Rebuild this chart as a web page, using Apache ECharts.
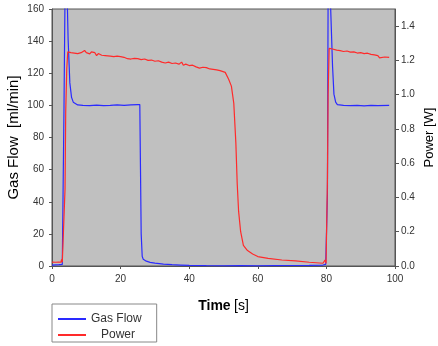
<!DOCTYPE html>
<html>
<head>
<meta charset="utf-8">
<script src="https://cdn.jsdelivr.net/npm/echarts@6/dist/echarts.min.js"></script>
<style>
html,body{margin:0;padding:0;background:#fff;}
#chart{width:438px;height:346px;}
</style>
</head>
<body>
<div id="chart"></div>
<script>
// x ticks (Time [s])
var xTicks = [0, 20, 40, 60, 80, 100];
// Gas Flow [ml/min]: [time s, flow]
var gasFlow = [
  [0,0.5],[1,0.7],[2,0.8],[3,1],[3.4,1.2],[3.5,99],[3.8,170],[4.4,170],[4.7,141],[5.0,125],[5.2,114],
  [5.7,105],[6.2,102],[6.6,101.2],[7.5,100.3],[9,100],[11,99.8],[13,100.2],[15,99.8],[17,100],
  [19,100.3],[21,100],[23,100.3],[25,100.5],[25.6,100.5],[25.8,60],[26.0,20],[26.3,6],[26.6,4.2],
  [27.5,3],[28.6,2.3],[30,1.8],[32.5,1.2],[35,0.8],[37.5,0.6],[40,0.4],[45,0.2],[50,0.1],[55,0.2],
  [60,0.1],[65,0.2],[70,0.3],[75,0.4],[79,0.6],[79.8,1],[80.1,1.5],[80.3,45],[80.5,170],[81.1,170],
  [81.4,150],[81.8,124],[82.2,107],[82.7,102],[83.2,100.5],[85,100],[87,99.8],[89,100],[91,99.7],
  [93,100],[95,99.8],[98.3,100]
];
// Power [W]: [time s, power]
var power = [
  [0,0.023],[1,0.022],[2,0.023],[2.6,0.022],[2.8,0.038],[3.0,0.022],[3.4,0.02],[3.6,0.02],[3.8,0.45],
  [4.0,0.9],[4.3,1.15],[4.6,1.25],[5,1.252],[5.5,1.245],[6,1.25],[6.5,1.243],[7,1.248],[7.5,1.24],
  [8,1.25],[8.5,1.245],[9,1.243],[9.5,1.258],[10,1.245],[10.5,1.25],[11,1.238],[11.5,1.25],[12,1.24],
  [12.5,1.245],[13,1.228],[13.5,1.24],[14,1.235],[14.5,1.23],[15,1.24],[15.5,1.228],[16,1.23],
  [17,1.225],[17.5,1.232],[18,1.222],[19,1.225],[19.5,1.215],[20,1.222],[20.5,1.212],[21,1.218],
  [22,1.21],[22.5,1.215],[23,1.208],[24,1.212],[25,1.21],[25.5,1.215],[26,1.205],[27,1.208],
  [28,1.2],[29,1.202],[30,1.195],[31,1.198],[32,1.19],[33,1.185],[34,1.19],[35,1.182],[36,1.185],
  [37,1.178],[37.8,1.19],[38.3,1.172],[39,1.178],[40,1.17],[41,1.172],[42,1.162],[42.5,1.17],
  [43,1.155],[43.5,1.165],[44,1.16],[45,1.158],[46,1.15],[47,1.148],[48,1.145],[49,1.14],
  [50.5,1.13],[51.5,1.09],[52.3,1.05],[53,0.95],[53.6,0.72],[54,0.48],[54.4,0.32],[55,0.2],
  [55.8,0.12],[57,0.09],[58.5,0.07],[60,0.055],[63,0.045],[67,0.035],[71,0.03],[75,0.022],
  [79,0.016],[79.6,0.035],[79.9,0.015],[80.3,0.5],[80.5,1.0],[80.8,1.27],[81.5,1.268],[82,1.265],
  [83,1.26],[84,1.257],[85,1.252],[86,1.255],[87,1.248],[88,1.25],[89,1.243],[90,1.245],[91,1.24],
  [92,1.242],[93,1.235],[94,1.232],[95,1.228],[95.5,1.215],[96,1.225],[97,1.22],[98.3,1.218]
];

var chart = echarts.init(document.getElementById('chart'), null, {renderer: 'canvas'});
var labelFont = {fontFamily: 'Liberation Sans, Arial, sans-serif', fontSize: 10, color: '#333'};
chart.setOption({
  animation: false,
  backgroundColor: '#ffffff',
  grid: {left: 52, right: 43, top: 9, bottom: 80, containLabel: false, outerBoundsMode: 'none',
    show: true, backgroundColor: '#c0c0c0', borderColor: '#555', borderWidth: 1},
  legend: {
    orient: 'vertical', left: 52, top: 304, padding: [9, 15, 1, 6],
    borderColor: '#888', borderWidth: 1, backgroundColor: '#fff', itemGap: 4,
    itemWidth: 28, itemHeight: 2, icon: 'rect',
    textStyle: {fontFamily: 'Liberation Sans, Arial, sans-serif', fontSize: 12, color: '#333'},
    formatter: function (n) { return n === 'Power' ? '   ' + n : n; },
    data: ['Gas Flow', 'Power']
  },
  xAxis: {
    type: 'value', min: xTicks[0], max: xTicks[xTicks.length - 1], interval: 20,
    name: '{b|Time} {n|[s]}', nameLocation: 'middle', nameGap: 33, nameMoveOverlap: false,
    nameTextStyle: {rich: {
      b: {fontFamily: 'Liberation Sans, Arial, sans-serif', fontSize: 14, fontWeight: 'bold', color: '#000'},
      n: {fontFamily: 'Liberation Sans, Arial, sans-serif', fontSize: 14, color: '#000'}
    }},
    axisLine: {show: true, lineStyle: {color: '#555'}},
    axisTick: {show: true, length: 3, lineStyle: {color: '#555'}},
    axisLabel: Object.assign({margin: 8}, labelFont),
    splitLine: {show: false}
  },
  yAxis: [{
    type: 'value', min: 0, max: 160, interval: 20, position: 'left',
    name: 'Gas Flow  [ml/min]', nameLocation: 'middle', nameGap: 31, nameMoveOverlap: false,
    nameTextStyle: {fontFamily: 'Liberation Sans, Arial, sans-serif', fontSize: 15, color: '#000'},
    axisLine: {show: true, lineStyle: {color: '#555'}},
    axisTick: {show: true, length: 3, lineStyle: {color: '#555'}},
    axisLabel: Object.assign({margin: 8}, labelFont),
    splitLine: {show: false}
  }, {
    type: 'value', min: 0, max: 1.5, interval: 0.2, position: 'right',
    name: 'Power [W]', nameLocation: 'middle', nameGap: 28, nameMoveOverlap: false,
    nameTextStyle: {fontFamily: 'Liberation Sans, Arial, sans-serif', fontSize: 13, color: '#000'},
    axisLine: {show: true, lineStyle: {color: '#555'}},
    axisTick: {show: true, length: 4, lineStyle: {color: '#555'}},
    axisLabel: Object.assign({margin: 6, showMaxLabel: false, formatter: function (v) { return v.toFixed(1); }}, labelFont),
    splitLine: {show: false}
  }],
  series: [{
    name: 'Gas Flow', type: 'line', yAxisIndex: 0, data: gasFlow, showSymbol: false, symbol: 'none',
    clip: true, lineStyle: {color: '#2a2aff', width: 1.2}, itemStyle: {color: '#2a2aff'}
  }, {
    name: 'Power', type: 'line', yAxisIndex: 1, data: power, showSymbol: false, symbol: 'none',
    clip: true, lineStyle: {color: '#ff2a2a', width: 1.2}, itemStyle: {color: '#ff2a2a'}
  }]
});
</script>
</body>
</html>
